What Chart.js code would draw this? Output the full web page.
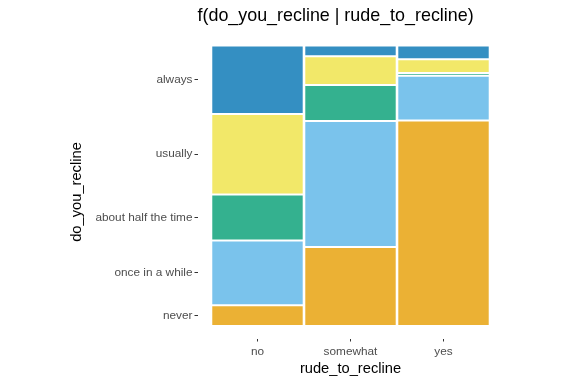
<!DOCTYPE html>
<html>
<head>
<meta charset="utf-8">
<script src="https://cdn.jsdelivr.net/npm/chart.js@4/dist/chart.umd.min.js"></script>
<style>
  body { margin: 0; background: #fff; }
  #wrap { width: 576px; height: 384px; }
</style>
</head>
<body>
<div id="wrap"><canvas id="mosaic" width="576" height="384"></canvas></div>
<script>
// column categories (x) and share of each answer within the column
var categories = ['no', 'somewhat', 'yes'];
var answers = ['never', 'once in a while', 'about half the time', 'usually', 'always'];

var never     = [0.074, 0.282, 0.733];
var onceWhile = [0.231, 0.449, 0.159];
var halfTime  = [0.164, 0.128, 0.010];
var usually   = [0.287, 0.103, 0.049];
var always    = [0.244, 0.038, 0.049];

var titleText = 'f(do_you_recline | rude_to_recline)';
var xTitle = 'rude_to_recline';
var yTitle = 'do_you_recline';

var fontFamily = "'Liberation Sans', Arial, sans-serif";
var colors = ['#EBB134', '#7AC3EC', '#34B18F', '#F2E869', '#348FC2'];
var series = [never, onceWhile, halfTime, usually, always];

// y tick positions = middle of each segment in the first column
var yTickValues = [];
var acc = 0;
series.forEach(function (s) {
    yTickValues.push(acc + s[0] / 2);
    acc += s[0];
});

var datasets = series.map(function (s, k) {
    return {
        label: answers[k],
        data: s.map(function (v, i) { return { x: i, y: v }; }),
        backgroundColor: colors[k],
        borderColor: '#ffffff',
        borderWidth: { top: 1, bottom: 1, left: 0, right: 0 },
        borderSkipped: false,
        barPercentage: 0.975,
        categoryPercentage: 1
    };
});

new Chart(document.getElementById('mosaic'), {
    type: 'bar',
    data: { datasets: datasets },
    options: {
        responsive: false,
        animation: false,
        layout: { padding: { left: 0, right: 72.5, top: 0, bottom: 0 } },
        plugins: {
            legend: { display: false },
            tooltip: { enabled: false },
            title: {
                display: true,
                text: titleText,
                align: 'start',
                fullSize: false,
                color: '#000000',
                font: { family: fontFamily, size: 17.9, weight: 'normal' },
                padding: { top: 5, bottom: 19 }
            }
        },
        scales: {
            x: {
                type: 'linear',
                stacked: true,
                offset: false,
                min: -0.645,
                max: 2.645,
                afterBuildTicks: function (scale) {
                    scale.ticks = categories.map(function (c, i) { return { value: i }; });
                },
                afterFit: function (scale) { scale.height = 45.5; },
                ticks: {
                    color: '#4D4D4D',
                    padding: 3.5,
                    font: { family: fontFamily, size: 11.8 },
                    callback: function (v) { return categories[v]; }
                },
                grid: { offset: false, drawOnChartArea: false, drawTicks: true, tickLength: 3, color: '#333333' },
                border: { display: false },
                title: {
                    display: true,
                    text: xTitle,
                    color: '#000000',
                    font: { family: fontFamily, size: 14.7 },
                    padding: { top: 0, bottom: 6.2 }
                }
            },
            y: {
                type: 'linear',
                stacked: true,
                min: -0.0446,
                max: 1,
                afterBuildTicks: function (scale) {
                    scale.ticks = yTickValues.map(function (v) { return { value: v }; });
                },
                afterFit: function (scale) { scale.width = 197.5; },
                ticks: {
                    color: '#4D4D4D',
                    padding: 2,
                    font: { family: fontFamily, size: 11.8 },
                    callback: function (v, i) { return answers[i]; }
                },
                grid: { drawOnChartArea: false, drawTicks: true, tickLength: 3, color: '#333333' },
                border: { display: false },
                title: {
                    display: true,
                    text: yTitle,
                    color: '#000000',
                    font: { family: fontFamily, size: 14.7 },
                    padding: { top: 68.5, bottom: 0 }
                }
            }
        }
    }
});
</script>
</body>
</html>
